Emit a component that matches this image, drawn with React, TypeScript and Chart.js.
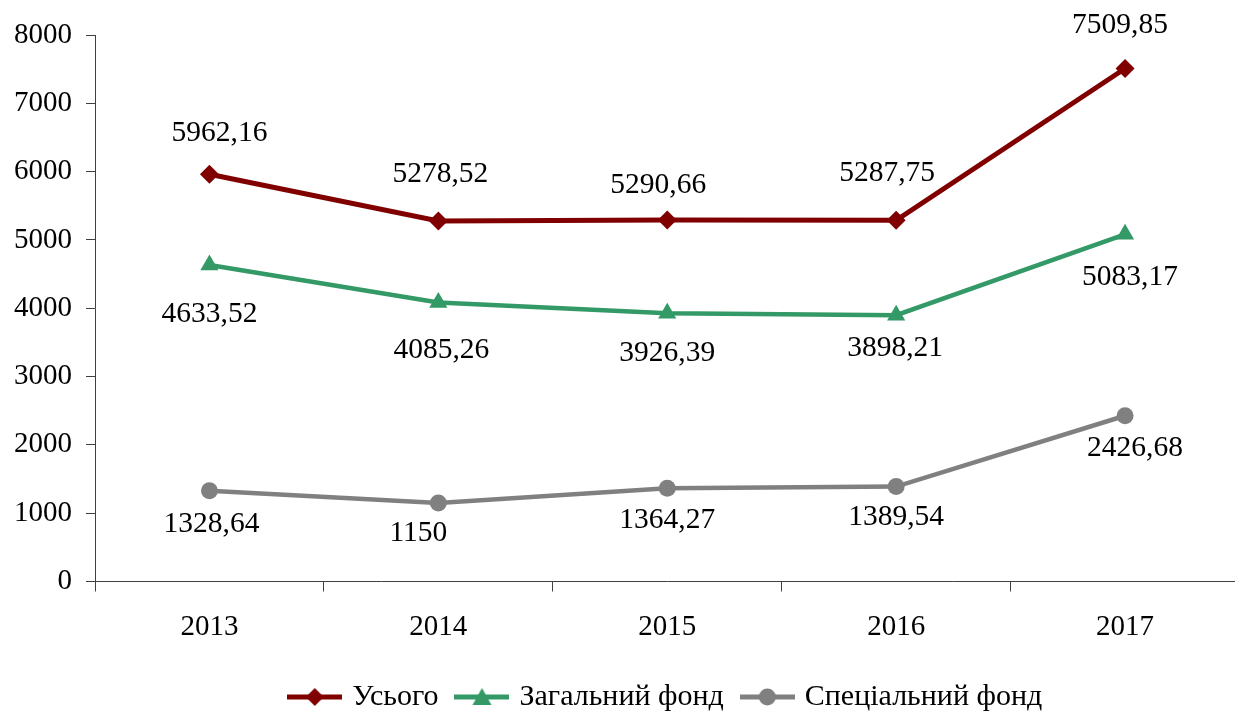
import React, { useEffect, useRef } from "react";
import { Chart, registerables } from "chart.js";

Chart.register(...registerables);

const years = ["2013", "2014", "2015", "2016", "2017"];
const totalValues = [5962.16, 5278.52, 5290.66, 5287.75, 7509.85];
const generalFundValues = [4633.52, 4085.26, 3926.39, 3898.21, 5083.17];
const specialFundValues = [1328.64, 1150, 1364.27, 1389.54, 2426.68];
const seriesNames = ["Усього", "Загальний фонд", "Спеціальний фонд"];
const yTicks = [0, 1000, 2000, 3000, 4000, 5000, 6000, 7000, 8000];

const FONT = "'Liberation Serif', 'Times New Roman', serif";
const COLORS = ["#800000", "#339966", "#808080"];
const POINT_STYLES = ["rectRot", "triangle", "circle"];
const POINT_RADII = [9.5, 10.5, 8.5];
const LINE_WIDTHS = [5, 4.5, 4.5];

// label placement nudges [dx, dy] relative to the point (style, not data)
const labelNudges = [
  [[10, -41], [2, -47], [-9, -35], [-9, -47], [-5, -43]],
  [[0, 49], [3, 48], [0, 40], [-1, 33], [5, 43]],
  [[2, 34], [-20, 30], [0, 32], [0, 31], [10, 33]],
];

function makeLegendImage(i: number): HTMLCanvasElement {
  const c = document.createElement("canvas");
  c.width = 55;
  c.height = 22;
  const ctx = c.getContext("2d")!;
  ctx.strokeStyle = COLORS[i];
  ctx.fillStyle = COLORS[i];
  ctx.lineWidth = 5;
  ctx.beginPath();
  ctx.moveTo(0, 11);
  ctx.lineTo(55, 11);
  ctx.stroke();
  const cx = 27.5, cy = 11;
  ctx.beginPath();
  if (i === 0) {
    ctx.moveTo(cx, cy - 9);
    ctx.lineTo(cx + 9, cy);
    ctx.lineTo(cx, cy + 9);
    ctx.lineTo(cx - 9, cy);
  } else if (i === 1) {
    ctx.moveTo(cx, cy - 9);
    ctx.lineTo(cx + 9.5, cy + 8);
    ctx.lineTo(cx - 9.5, cy + 8);
  } else {
    ctx.arc(cx, cy, 8.5, 0, Math.PI * 2);
  }
  ctx.closePath();
  ctx.fill();
  return c;
}

const valueLabelPlugin = {
  id: "valueLabels",
  afterDatasetsDraw(chart: any) {
    const ctx = chart.ctx;
    ctx.save();
    ctx.font = `29.5px ${FONT}`;
    ctx.fillStyle = "#000";
    ctx.textAlign = "center";
    ctx.textBaseline = "middle";
    chart.data.datasets.forEach((ds: any, di: number) => {
      const meta = chart.getDatasetMeta(di);
      meta.data.forEach((pt: any, i: number) => {
        const v = ds.data[i] as number;
        const txt = String(v).replace(".", ",");
        const [dx, dy] = labelNudges[di][i];
        ctx.fillText(txt, pt.x + dx, pt.y + dy);
      });
    });
    ctx.restore();
  },
};

export default function App() {
  const ref = useRef<HTMLCanvasElement>(null);
  useEffect(() => {
    if (!ref.current) return;
    const legendImages = [0, 1, 2].map(makeLegendImage);
    const seriesData = [totalValues, generalFundValues, specialFundValues];
    const chart = new Chart(ref.current, {
      type: "line",
      data: {
        labels: years,
        datasets: seriesData.map((d, i) => ({
          label: seriesNames[i],
          data: d,
          borderColor: COLORS[i],
          backgroundColor: COLORS[i],
          borderWidth: LINE_WIDTHS[i],
          pointStyle: POINT_STYLES[i] as any,
          pointRadius: POINT_RADII[i],
          pointBackgroundColor: COLORS[i],
          pointBorderWidth: 0,
          tension: 0,
          fill: false,
        })),
      },
      options: {
        responsive: false,
        animation: false,
        layout: { padding: { left: 0, right: 8, top: 35, bottom: 3 } },
        scales: {
          x: {
            type: "category",
            offset: true,
            grid: {
              offset: true,
              drawOnChartArea: false,
              drawTicks: true,
              tickLength: 10,
              color: "#404040",
            },
            border: { color: "#404040", width: 1 },
            ticks: {
              font: { family: FONT, size: 29 },
              color: "#000",
              padding: 18,
            },
            afterFit: (s: any) => {
              s.height = 79.5;
            },
          },
          y: {
            min: yTicks[0],
            max: yTicks[yTicks.length - 1],
            afterBuildTicks: (s: any) => {
              s.ticks = yTicks.map((v) => ({ value: v }));
            },
            ticks: {
              font: { family: FONT, size: 29 },
              color: "#000",
              padding: 14,
              callback: (v: any) => String(v),
            },
            grid: {
              drawOnChartArea: false,
              drawTicks: true,
              tickLength: 9,
              color: "#404040",
            },
            border: { color: "#404040", width: 1 },
            afterFit: (s: any) => {
              s.width = 95;
            },
          },
        },
        plugins: {
          legend: {
            position: "bottom",
            fullSize: false,
            labels: {
              usePointStyle: true,
              pointStyleWidth: 45,
              padding: 21,
              color: "#000",
              font: { family: FONT, size: 30 },
              generateLabels: (c: any) =>
                c.data.datasets.map((ds: any, i: number) => ({
                  text: ds.label,
                  pointStyle: legendImages[i],
                  fillStyle: COLORS[i],
                  strokeStyle: COLORS[i],
                  lineWidth: 0,
                  hidden: false,
                  datasetIndex: i,
                  fontColor: "#000",
                })),
            },
          },
          tooltip: { enabled: false },
        },
      },
      plugins: [valueLabelPlugin],
    });
    return () => chart.destroy();
  }, []);
  return (
    <div
      style={{
        position: "fixed",
        left: 0,
        top: 0,
        width: 1235,
        height: 713,
        overflow: "hidden",
        background: "#fff",
      }}
    >
      <canvas ref={ref} width={1250} height={725} style={{ display: "block" }} />
    </div>
  );
}
